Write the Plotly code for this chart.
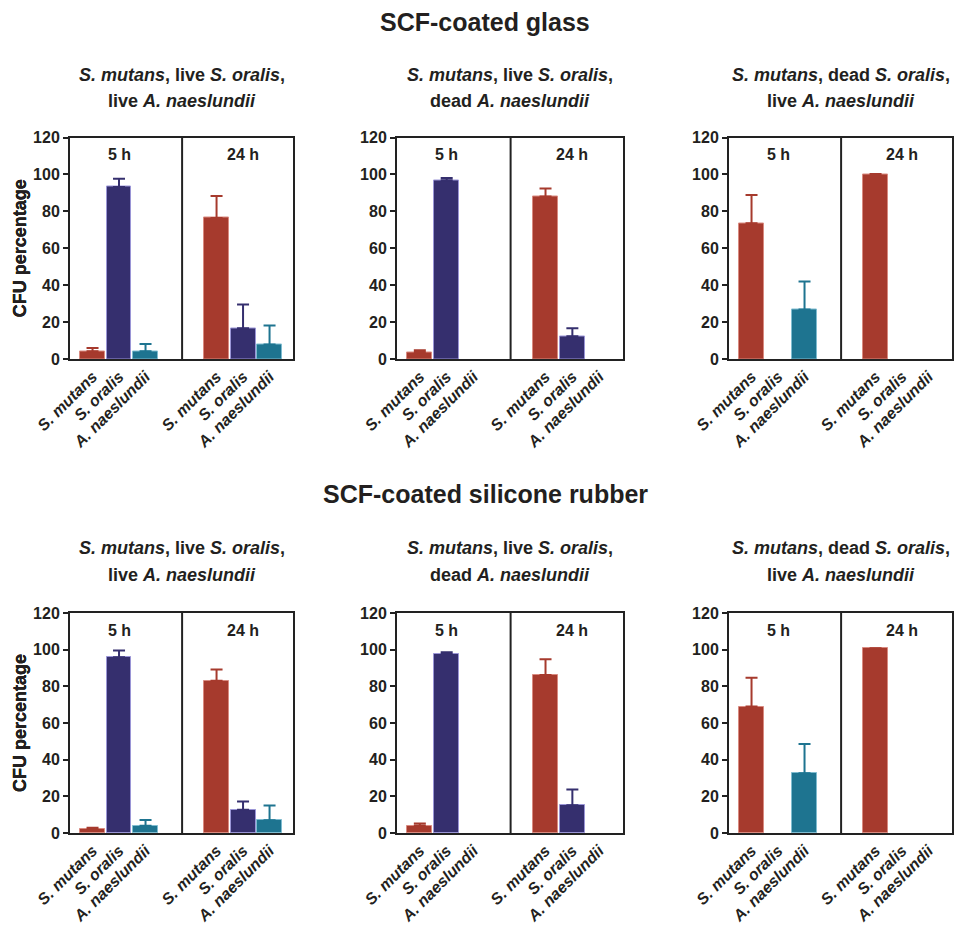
import plotly.graph_objects as go

# ---------------- data ----------------
species = ["S. mutans", "S. oralis", "A. naeslundii"]
times = ["5 h", "24 h"]
row_titles = ["SCF-coated glass", "SCF-coated silicone rubber"]
panel_line1 = ["<i>S. mutans</i>, live <i>S. oralis</i>,",
               "<i>S. mutans</i>, live <i>S. oralis</i>,",
               "<i>S. mutans</i>, dead <i>S. oralis</i>,"]
panel_line2 = ["live <i>A. naeslundii</i>",
               "dead <i>A. naeslundii</i>",
               "live <i>A. naeslundii</i>"]
y_ticks = [0, 20, 40, 60, 80, 100, 120]

# glass, panel 1
g1_5h_mean = [4.2, 93.2, 4.2]
g1_5h_err = [1.8, 4.5, 3.9]
g1_24h_mean = [76.4, 16.7, 7.8]
g1_24h_err = [11.9, 12.8, 10.3]
# glass, panel 2
g2_5h_mean = [3.6, 96.9, 0]
g2_5h_err = [1.1, 1.1, None]
g2_24h_mean = [88.1, 12.3, 0]
g2_24h_err = [4.3, 4.3, None]
# glass, panel 3
g3_5h_mean = [73.5, 0, 26.8]
g3_5h_err = [15.3, None, 15.2]
g3_24h_mean = [100.2, 0, 0]
g3_24h_err = [None, None, None]
# silicone rubber, panel 1
s1_5h_mean = [2.4, 95.9, 4.0]
s1_5h_err = [0.5, 3.6, 3.1]
s1_24h_mean = [83.1, 12.7, 6.9]
s1_24h_err = [6.1, 4.5, 8.1]
# silicone rubber, panel 2
s2_5h_mean = [4.0, 97.6, 0]
s2_5h_err = [1.2, 1.0, None]
s2_24h_mean = [86.2, 15.2, 0]
s2_24h_err = [8.6, 8.5, None]
# silicone rubber, panel 3
s3_5h_mean = [69.0, 0, 32.6]
s3_5h_err = [15.7, None, 15.9]
s3_24h_mean = [100.8, 0, 0]
s3_24h_err = [None, None, None]

panels = [
    (g1_5h_mean, g1_5h_err, g1_24h_mean, g1_24h_err),
    (g2_5h_mean, g2_5h_err, g2_24h_mean, g2_24h_err),
    (g3_5h_mean, g3_5h_err, g3_24h_mean, g3_24h_err),
    (s1_5h_mean, s1_5h_err, s1_24h_mean, s1_24h_err),
    (s2_5h_mean, s2_5h_err, s2_24h_mean, s2_24h_err),
    (s3_5h_mean, s3_5h_err, s3_24h_mean, s3_24h_err),
]

# ---------------- style ----------------
W, H = 971, 931
FONT = "Arial, 'Liberation Sans', sans-serif"
TXT = "#231f20"
colors = ["#a63a2d", "#352f6e", "#1e7490"]
edge = ["#d98a80", "#9a95d6", "#7fbcd0"]

group_offset = [0.0, 4.68]       # x offset of each time group
x_range = [-0.85, 7.565]
divider_x = 3.38

col_px = [(70, 293), (397, 623), (729, 952)]
row_px = [(137.5, 359), (613, 833)]
title_y = [22, 494]
sub_y = [(75, 101), (548, 575)]
time_y = [155, 630]

fig = go.Figure()
annotations = []
shapes = []

tickvals = [g + i for g in group_offset for i in range(3)]
ticktext = ["<b><i>%s</i></b>" % s for _ in times for s in species]

for p, (m5, e5, m24, e24) in enumerate(panels):
    r, c = divmod(p, 3)
    idx = p + 1
    xa = "x" if idx == 1 else "x%d" % idx
    ya = "y" if idx == 1 else "y%d" % idx
    for k in range(3):
        ys = [m5[k], m24[k]]
        es = [e5[k], e24[k]]
        em = [0 if e is not None else None for e in es]
        ys_plot = [v if v > 0 else None for v in ys]   # empty slot: no bar drawn
        fig.add_trace(go.Bar(
            x=[group_offset[0] + k, group_offset[1] + k], y=ys_plot, width=0.94,
            marker=dict(color=colors[k], line=dict(color=edge[k], width=1)),
            error_y=dict(type="data", symmetric=False, array=es, arrayminus=em,
                         color=colors[k], thickness=2, width=6),
            xaxis=xa, yaxis=ya, showlegend=False, hoverinfo="y"))
    x0, x1 = col_px[c]
    yt, yb = row_px[r]
    axis_common = dict(showline=True, mirror=True, linecolor="#222", linewidth=2,
                       showgrid=False, zeroline=False, automargin=False)
    fig.update_layout(**{
        ("xaxis" if idx == 1 else "xaxis%d" % idx): dict(
            domain=[x0 / W, x1 / W], anchor=ya, range=x_range,
            tickmode="array", tickvals=tickvals, ticktext=ticktext,
            tickangle=-45, ticks="", tickfont=dict(size=16, color=TXT, family=FONT),
            **axis_common),
        ("yaxis" if idx == 1 else "yaxis%d" % idx): dict(
            domain=[1 - yb / H, 1 - yt / H], anchor=xa, range=[0, 120],
            tickmode="array", tickvals=y_ticks,
            ticktext=["<b>%d</b>" % v for v in y_ticks],
            ticks="outside", ticklen=5, tickwidth=2, tickcolor="#222",
            tickfont=dict(size=16, color=TXT, family=FONT),
            **axis_common),
    })
    # divider between 5 h and 24 h
    shapes.append(dict(type="line", xref=xa, yref=ya + " domain",
                       x0=divider_x, x1=divider_x, y0=0, y1=1,
                       line=dict(color="#222", width=2)))
    # time labels
    for g, t in enumerate(times):
        annotations.append(dict(text="<b>%s</b>" % t, xref=xa, yref="paper",
                                x=group_offset[g] + 1, y=1 - time_y[r] / H,
                                showarrow=False, xanchor="center", yanchor="middle",
                                font=dict(size=16, color=TXT, family=FONT)))
    # y-axis title
    annotations.append(dict(text="<b>CFU percentage</b>", xref="paper", yref="paper",
                            x=20 / W, y=1 - (yt + yb) / 2 / H, textangle=-90,
                            showarrow=False, xanchor="center", yanchor="middle",
                            font=dict(size=18, color=TXT, family=FONT)))
    # panel subtitles
    cx = (x0 + x1) / 2 / W
    for line_txt, ly in ((panel_line1[c], sub_y[r][0]), (panel_line2[c], sub_y[r][1])):
        annotations.append(dict(text="<b>%s</b>" % line_txt, xref="paper", yref="paper",
                                x=cx, y=1 - ly / H, showarrow=False,
                                xanchor="center", yanchor="middle",
                                font=dict(size=18, color=TXT, family=FONT)))

for r, t in enumerate(row_titles):
    annotations.append(dict(text="<b>%s</b>" % t, xref="paper", yref="paper",
                            x=485 / W, y=1 - title_y[r] / H, showarrow=False,
                            xanchor="center", yanchor="middle",
                            font=dict(size=25, color=TXT, family=FONT)))

fig.update_layout(width=W, height=H, autosize=False,
                  margin=dict(l=0, r=0, t=0, b=0),
                  paper_bgcolor="white", plot_bgcolor="white",
                  barmode="overlay", bargap=0,
                  annotations=annotations, shapes=shapes,
                  font=dict(family=FONT, color=TXT))

fig.write_html("out.html", config={"displayModeBar": False},
               post_script="document.body.style.margin='0px';document.body.style.overflow='hidden';")
